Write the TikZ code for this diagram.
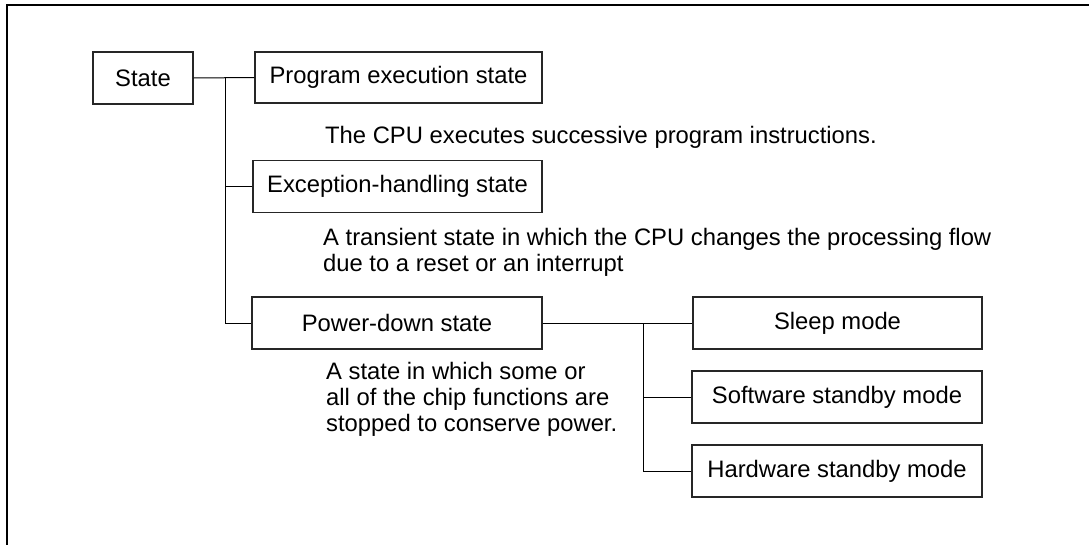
\documentclass[tikz,border=0pt]{standalone}
\usepackage{fontspec}
\setmainfont{Liberation Sans}
\begin{document}
\begin{tikzpicture}[x=1pt,y=-1pt,
  box/.style={draw=black!85,line width=1.2pt,rectangle,inner sep=0pt,minimum width=289pt,minimum height=52pt,align=center},
  smallbox/.style={box,minimum width=100pt},
  conn/.style={draw=black,line width=1pt},
  frameline/.style={draw=black,line width=2pt},
  desc/.style={inner sep=0pt,anchor=base west,align=left}]
\useasboundingbox (0,0) rectangle (1089,544);
\fontsize{23.8}{25.8}\selectfont
% frame (top and left edges visible)
\coordinate (fbl) at (7,545);
\coordinate (ftl) at (7,5);
\coordinate (ftr) at (1090,5);
\draw[frameline] (fbl) -- (ftl) -- (ftr);
% boxes
\node[smallbox] (state) at (143,78) {State};
\node[box,minimum width=287pt,minimum height=51pt] (prog) at (398.5,77.5) {Program execution state};
\node[box] (exc) at (397.5,186.5) {Exception-handling state};
\node[box,minimum width=290pt] (pwr) at (397,323) {Power-down state};
\node[box] (sleep) at (837.5,323) {Sleep mode};
\node[box,minimum width=290pt] (soft) at (837,397) {Software standby mode};
\node[box,minimum width=290pt] (hard) at (837,471) {Hardware standby mode};
% junctions
\coordinate (j1) at (225,78);
\coordinate (j2) at (643,323);
% connectors
\draw[conn] (state.east) -- (prog.west);
\draw[conn] (j1) |- (exc.west);
\draw[conn] (j1) |- (pwr.west);
\draw[conn] (pwr.east) -- (sleep.west);
\draw[conn] (j2) |- (soft.west);
\draw[conn] (j2) |- (hard.west);
% descriptions (base anchor = baseline of last line)
\node[desc] (dprog) at (325,143) {The CPU executes successive program instructions.};
\node[desc] (dexc) at (323,271.5) {A transient state in which the CPU changes the processing flow\\due to a reset or an interrupt};
\node[desc] (dpwr) at (326,431.5) {A state in which some or\\all of the chip functions are\\stopped to conserve power.};
\end{tikzpicture}
\end{document}
